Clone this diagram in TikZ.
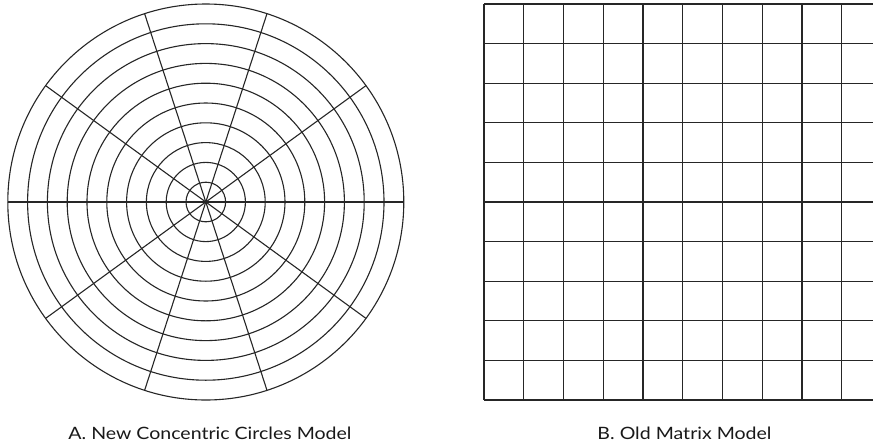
\documentclass[tikz,border=0pt]{standalone}
\usepackage{fontspec}
\usepackage{graphicx}
\setmainfont{Lato}
\begin{document}
\begin{tikzpicture}[x=1pt,y=-1pt,
  ln/.style={line width=1.1pt,draw=black!85},
  captext/.style={font=\fontsize{17}{19}\selectfont,text=black!90,inner sep=0pt,anchor=base}]
\useasboundingbox[fill=white] (0,0) rectangle (873,445);
% concentric circles model
\coordinate (c) at (205.8,202);
\foreach \k in {1,...,10}{\draw[ln] (c) circle[radius=19.8*\k];}
\foreach \a in {0,36,...,324}{\draw[ln] (c) -- ++(\a:198);}
% matrix model
\foreach \k in {0,...,9}{\draw[ln] (484+39.75*\k,4) -- (484+39.75*\k,400);}
\foreach \k in {0,...,10}{\draw[ln] (484,4+39.6*\k) -- (873,4+39.6*\k);}
% captions
\node[captext] (ta) at (210,439.3) {\resizebox{283pt}{\height}{A. New Concentric Circles Model}};
\node[captext] (tb) at (684.5,439.3) {\resizebox{174pt}{\height}{B. Old Matrix Model}};
\end{tikzpicture}
\end{document}
